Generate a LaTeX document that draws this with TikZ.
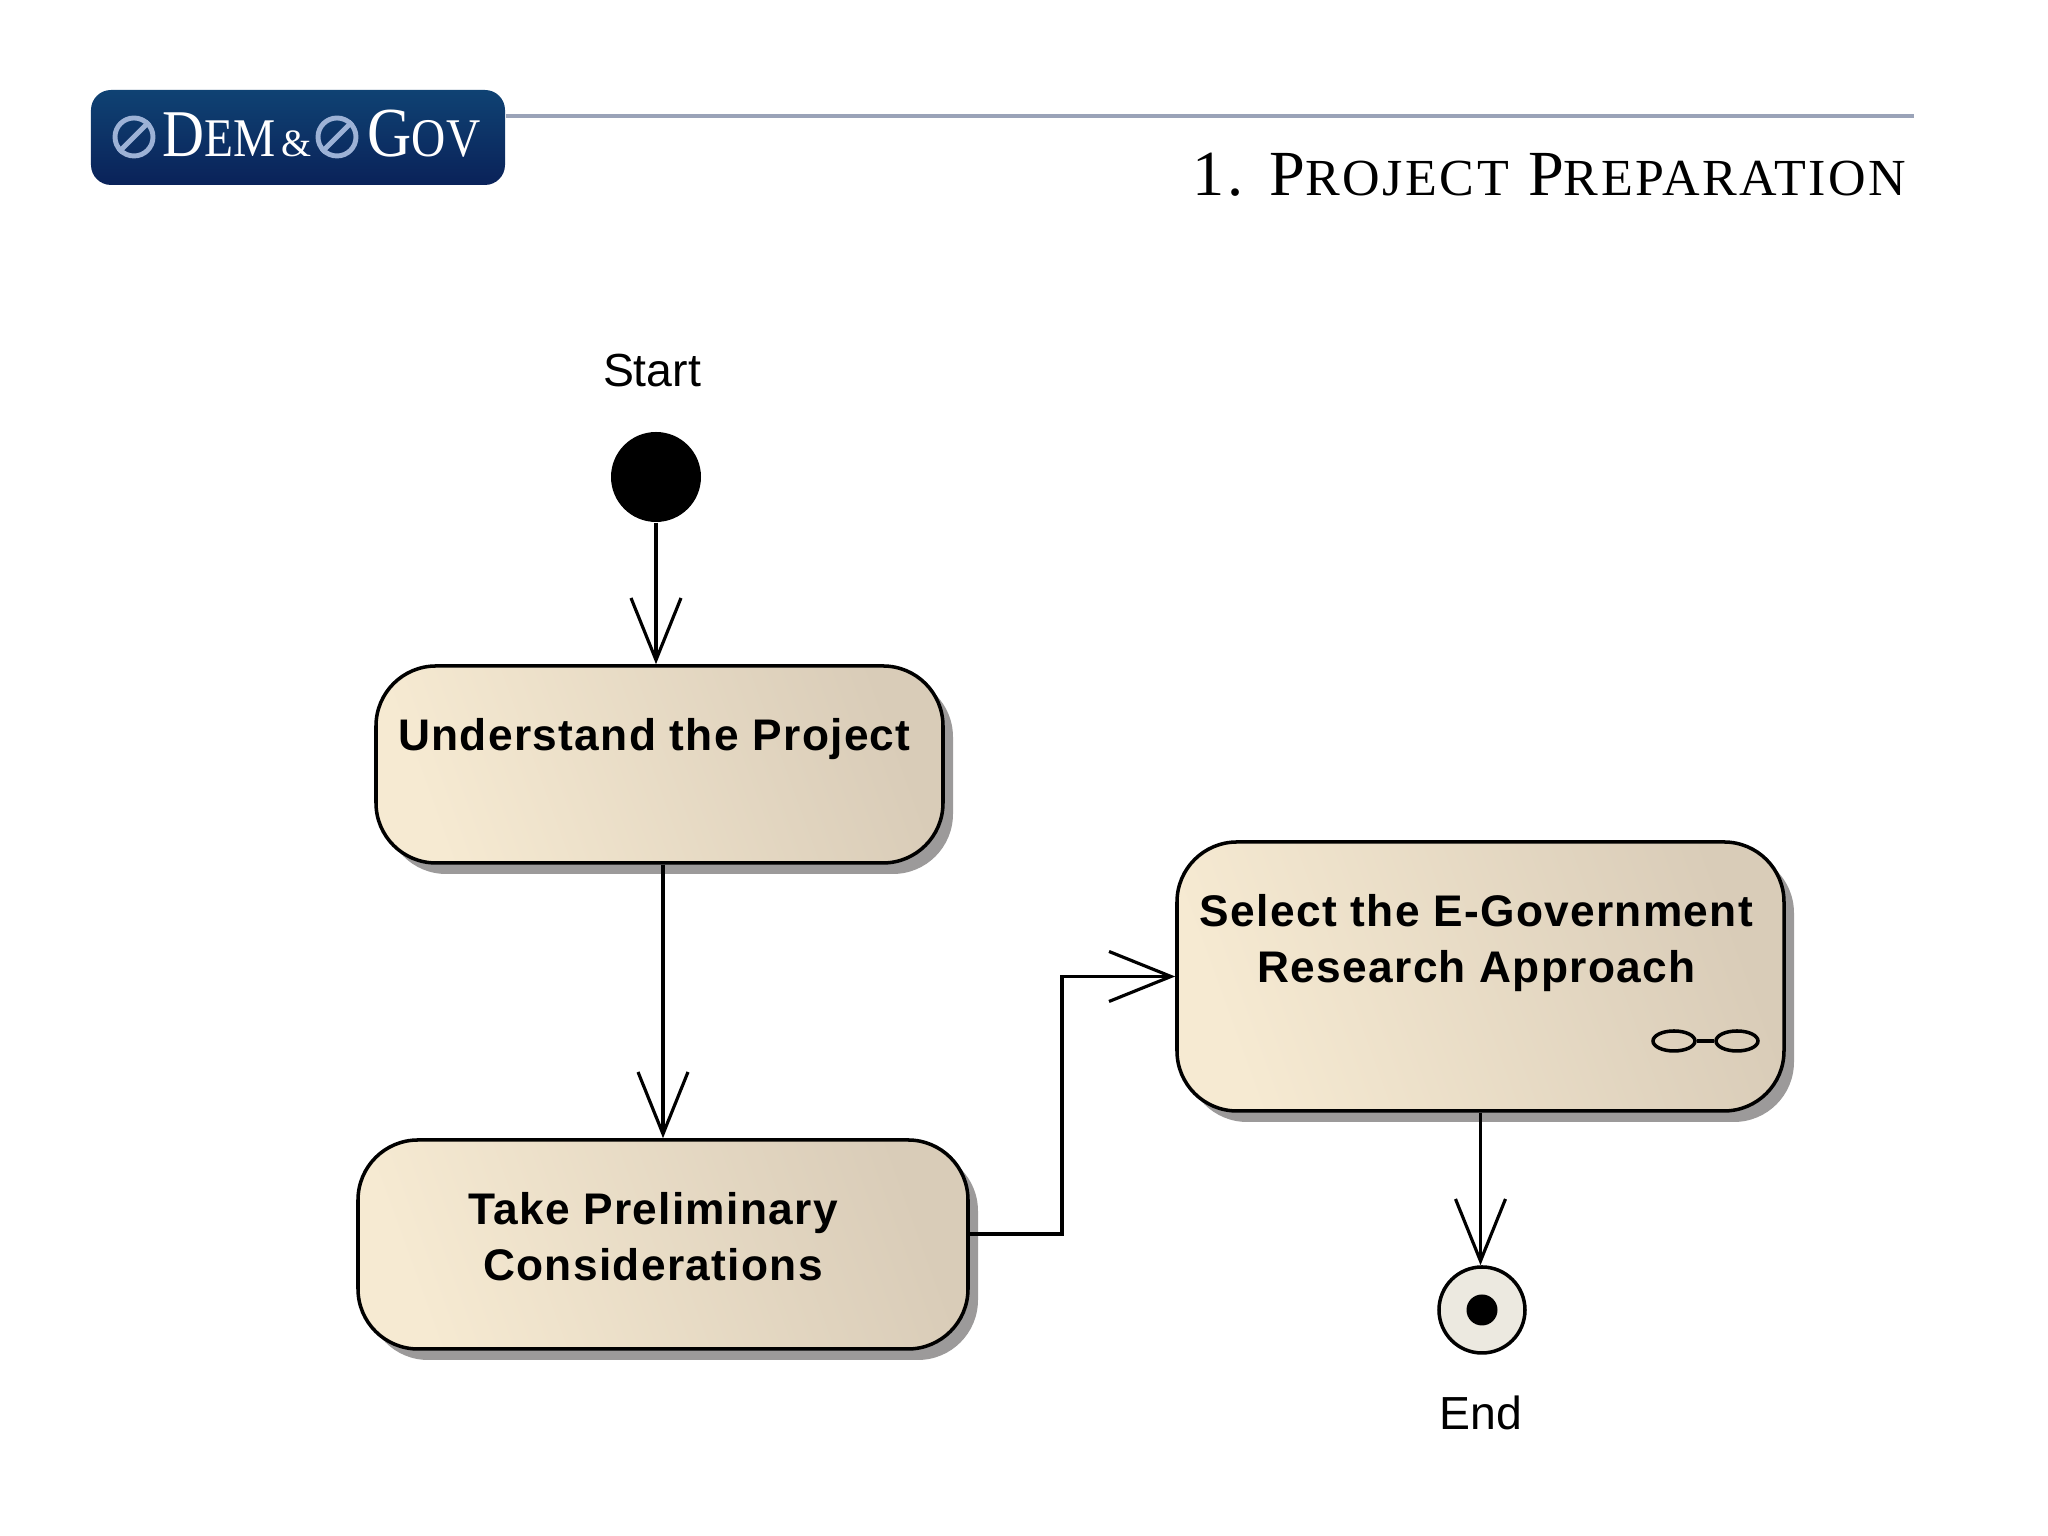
\documentclass[tikz,border=0pt]{standalone}
\usepackage{fontspec}
\setmainfont{Liberation Serif}
\setsansfont{Liberation Sans}
\usetikzlibrary{arrows.meta,shadows,shapes.geometric}
\definecolor{logotop}{HTML}{0F4273}
\definecolor{logobot}{HTML}{0A2259}
\definecolor{rulecol}{HTML}{9AA3B8}
\definecolor{eglyph}{HTML}{9DB2D6}
\definecolor{boxleft}{HTML}{F6EAD2}
\definecolor{boxright}{HTML}{D9CCB8}
\definecolor{shadowcol}{HTML}{9C9A9A}
\definecolor{endfill}{HTML}{ECE9E0}
\newfontfamily\titlefont[LetterSpace=5]{Liberation Serif}
\newfontfamily\boxfont[LetterSpace=3]{Liberation Sans}
\newcommand{\bigsz}{\fontsize{18.3}{18.3}\selectfont}
\newcommand{\smallsz}{\fontsize{14.8}{14.8}\selectfont}
\tikzset{
    activity/.style={draw,line width=1pt,rounded corners=.6cm,inner sep=0pt,align=center,
        left color=boxleft,right color=boxright,shading angle=110,
        font=\boxfont\bfseries\fontsize{12.6}{16}\selectfont,
        drop shadow={shadow xshift=.1cm,shadow yshift=-.11cm,fill=shadowcol,opacity=1}},
    caption/.style={font=\sffamily\fontsize{13.2}{13.2}\selectfont},
    flow/.style={->,line width=1pt},
    eglyphmark/.style={circle,draw=eglyph,line width=1.4pt,minimum size=.38cm,inner sep=0pt},
    rakering/.style={ellipse,draw,line width=1pt,minimum width=.42cm,minimum height=.2cm,inner sep=0pt},
}
\begin{document}
\begin{tikzpicture}[>={Straight Barb[length=.62cm,width=.5cm,line width=.9pt]},scale=1.0]
    \useasboundingbox (0,0) rectangle (20.48,15.36);

    \coordinate (ruleend) at (19.14,14.20);
    \node[minimum width=4.14cm,minimum height=.95cm,rounded corners=.2cm,top color=logotop,bottom color=logobot,inner sep=0pt] (logo) at (2.98,13.985) {};
    \draw[rulecol,line width=1.2pt] (logo.east |- ruleend)--(ruleend);

    \node[eglyphmark] (eone) at (1.34,13.99) {};
    \draw[eglyph,line width=1.4pt] (eone.south west)--(eone.north east);
    \node[eglyphmark] (etwo) at (3.37,13.99) {};
    \draw[eglyph,line width=1.4pt] (etwo.south west)--(etwo.north east);
    \node[anchor=base west,inner sep=0pt,text=white] (dem) at (1.62,13.79) {\scalebox{.87}[1]{{\fontsize{19}{19}\selectfont D}{\fontsize{15.5}{15.5}\selectfont EM}}};
    \node[anchor=base,inner sep=0pt,text=white] (amp) at (2.97,13.79) {\fontsize{11}{11}\selectfont\&};
    \node[anchor=base west,inner sep=0pt,text=white] (gov) at (3.67,13.79) {\scalebox{.87}[1]{{\fontsize{20}{20}\selectfont G}{\fontsize{15.5}{15.5}\selectfont OV}}};

    \node[anchor=base east,inner sep=0pt] (title) at (19.07,13.40) {\titlefont\bigsz 1. P{\smallsz ROJECT} P{\smallsz REPARATION}};

    \node[circle,fill=black,minimum size=.9cm,inner sep=0pt] (start) at (6.56,10.59) {};
    \node[caption] (starttxt) at (6.52,11.65) {Start};

    \node[activity,minimum width=5.67cm,text height=.85cm,text depth=1.12cm] (understand) at (6.595,7.715) {Understand the Project\hspace*{.1cm}};
    \node[activity,minimum width=6.10cm,text height=1.41cm,text depth=.68cm] (prelim) at (6.63,2.915) {Take Preliminary\hspace*{.2cm}\\Considerations\hspace*{.2cm}};
    \node[activity,minimum width=6.07cm,text height=1.41cm,text depth=1.28cm] (select) at (14.805,5.595) {Select the E-Government\hspace*{.08cm}\\Research Approach\hspace*{.08cm}};

    \node[rakering] (rakea) at (16.74,4.95) {};
    \node[rakering] (rakeb) at (17.37,4.95) {};
    \draw[line width=1pt] (rakea)--(rakeb);

    \node[circle,draw,line width=1pt,fill=endfill,minimum size=.86cm,inner sep=0pt] (stop) at (14.82,2.26) {};
    \node[circle,fill=black,minimum size=.31cm,inner sep=0pt] (stopdot) at (stop.center) {};
    \node[caption] (endtxt) at (14.81,1.23) {End};

    \coordinate (bend) at (10.62,3.02);
    \draw[flow] (start |- start.south)--(start |- understand.north);
    \draw[flow] (prelim.north |- understand.south)--(prelim.north);
    \draw[flow] (prelim.east |- bend)--(bend) |- (select.west);
    \draw[flow] (select.south)--(select.south |- stop.north);
\end{tikzpicture}
\end{document}
